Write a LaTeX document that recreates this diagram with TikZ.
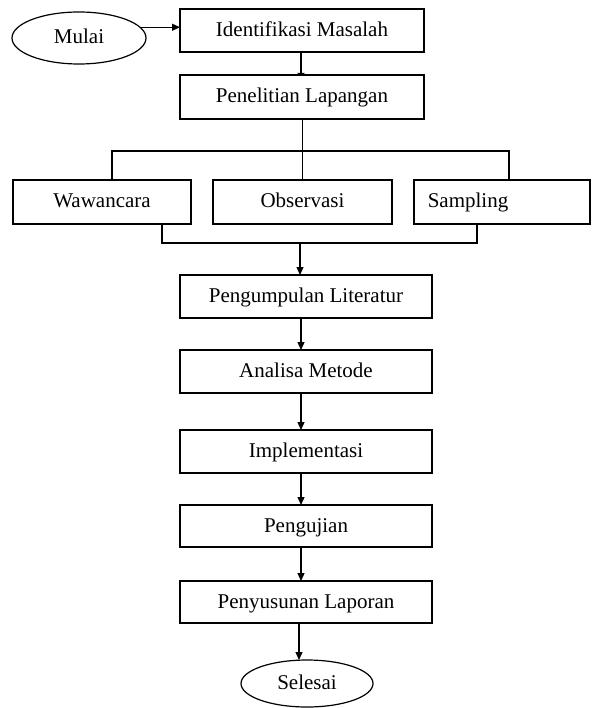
\documentclass[tikz,border=0pt]{standalone}
\usepackage{fontspec}
\setmainfont{Liberation Serif}
\usetikzlibrary{arrows.meta,shapes.geometric}
\begin{document}
\begin{tikzpicture}[x=1pt,y=-1pt,
  every node/.style={font=\fontsize{21}{24}\selectfont, inner sep=0pt, outer sep=0pt, text height=16pt, text depth=4pt},
  box/.style={draw, line width=1.3pt, rectangle, minimum height=43pt},
  oval/.style={draw, line width=1.2pt, ellipse},
  link/.style={draw, line width=1.2pt},
  arr/.style={link, -{Triangle[length=8pt,width=7pt]}},
  tee/.style={link, -{Triangle[length=2pt,width=8pt]}}]
\useasboundingbox (0,0) rectangle (591,708);
% nodes
\node[oval, minimum width=134pt, minimum height=52pt] (mulai) at (79,38) {Mulai};
\node[box, minimum width=244pt] (ident) at (302,30.5) {Identifikasi Masalah};
\node[box, minimum width=244pt, minimum height=44pt] (pen) at (302,97) {Penelitian Lapangan};
\node[box, minimum width=178pt, minimum height=44pt] (waw) at (102,202) {Wawancara};
\node[box, minimum width=179pt, minimum height=44pt] (obs) at (302.5,202) {Observasi};
\node[box, minimum width=176pt, minimum height=44pt] (samp) at (502,202) {\hspace*{-68pt}Sampling};
\node[box, minimum width=252pt] (peng) at (306,296.5) {Pengumpulan Literatur};
\node[box, minimum width=252pt] (anal) at (306,371.5) {Analisa Metode};
\node[box, minimum width=252pt] (impl) at (306,451.5) {Implementasi};
\node[box, minimum width=252pt, minimum height=42pt] (uji) at (306,526) {Pengujian};
\node[box, minimum width=252pt, minimum height=42pt] (susun) at (306,602) {Penyusunan Laporan};
\node[oval, minimum width=132pt, minimum height=47pt] (selesai) at (307,683.5) {Selesai};
% helper coordinates
\coordinate (tl) at (112,151);
\coordinate (tr) at (509,151);
\coordinate (bl) at (162,243);
\coordinate (br) at (477,243);
\coordinate (bm) at (300,243);
\coordinate (ax) at (301,0);
\coordinate (sx) at (299,0);
% connectors
\draw[arr] (mulai.10) -- (ident.west |- mulai.10);
\draw[tee] (ident.south -| ax) -- (pen.north -| ax);
\draw[link] (pen.south -| obs.north) -- (obs.north);
\draw[link] (waw.north -| tl) -- (tl) -- (tr) -- (samp.north -| tr);
\draw[link] (waw.south -| bl) -- (bl) -- (br) -- (samp.south -| br);
\draw[arr] (bm) -- (peng.north -| bm);
\draw[arr] (peng.south -| ax) -- (anal.north -| ax);
\draw[arr] (anal.south -| ax) -- (impl.north -| ax);
\draw[arr] (impl.south -| ax) -- (uji.north -| ax);
\draw[arr] (uji.south -| ax) -- (susun.north -| ax);
\draw[arr] (susun.south -| sx) -- (selesai.north -| sx);
\end{tikzpicture}
\end{document}
